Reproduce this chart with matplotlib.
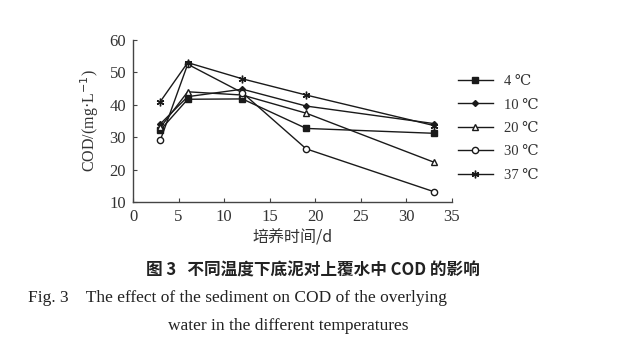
import numpy as np
import matplotlib
matplotlib.use('Agg')
import matplotlib.pyplot as plt

# data
days = [3, 6, 12, 19, 33]
cod_4 = [32.2, 41.7, 41.8, 32.7, 31.2]
cod_10 = [34.1, 42.5, 44.8, 39.6, 34.2]
cod_20 = [33.0, 44.0, 43.0, 37.4, 22.3]
cod_30 = [29.1, 52.5, 43.7, 26.4, 13.2]
cod_37 = [41.0, 53.0, 48.0, 43.0, 33.6]
labels = ['4 \u2103', '10 \u2103', '20 \u2103', '30 \u2103', '37 \u2103']

serif = ['Liberation Serif', 'DejaVu Serif']
cjk = ['Noto Sans CJK SC', 'DejaVu Sans']

fig = plt.figure(figsize=(6.26, 3.63), dpi=100)
ax = fig.add_axes([0.2125, 0.4435, 0.5095, 0.4465])

kw = dict(color='#1a1a1a', lw=1.0, mec='#1a1a1a')
ax.plot(days, cod_4, marker='s', ms=4.5, mfc='#1a1a1a', label=labels[0], **kw)
ax.plot(days, cod_10, marker='D', ms=3, mfc='#1a1a1a', label=labels[1], **kw)
ax.plot(days, cod_20, marker='^', ms=4.5, mfc='white', label=labels[2], **kw)
ax.plot(days, cod_30, marker='o', ms=4.5, mfc='white', label=labels[3], **kw)
ax.plot(days, cod_37, marker=(6, 2, 0), ms=5.5, mew=1.0, label=labels[4], **kw)

ax.set_xlim(0, 35)
ax.set_ylim(10, 60)
ax.set_xticks(np.arange(0, 36, 5))
ax.set_yticks(np.arange(10, 61, 10))
ax.spines['top'].set_visible(False)
ax.spines['right'].set_visible(False)
for s in ['left', 'bottom']:
    ax.spines[s].set_color('#444444')
    ax.spines[s].set_linewidth(1.0)
ax.tick_params(direction='in', length=3, color='#444444', labelsize=12, pad=5)
for t in ax.get_xticklabels() + ax.get_yticklabels():
    t.set_fontfamily(serif)
    t.set_color('#333333')

ax.set_ylabel('COD/(mg\u00b7L$^{-1}$)', fontsize=11.5, family=serif, color='#333333', labelpad=6)
ax.set_xlabel('培养时间/d', fontsize=11.5, family=cjk, color='#333333', labelpad=3)

leg = ax.legend(loc='upper left', bbox_to_anchor=(1.0, 0.82), frameon=False,
                prop={'family': serif, 'size': 10.5}, handlelength=2.4,
                labelspacing=0.7, borderaxespad=0)
for t in leg.get_texts():
    t.set_color('#333333')

fig.text(0.5, 0.255, '图 3   不同温度下底泥对上覆水中 COD 的影响', ha='center', va='center',
         fontsize=12, fontweight='bold', family=cjk, color='#222222')
fig.text(0.045, 0.178, 'Fig. 3    The effect of the sediment on COD of the overlying', ha='left',
         va='center', fontsize=12.5, family=serif, color='#222222')
fig.text(0.46, 0.103, 'water in the different temperatures', ha='center', va='center',
         fontsize=12.5, family=serif, color='#222222')

fig.savefig('out.png', dpi=100)
